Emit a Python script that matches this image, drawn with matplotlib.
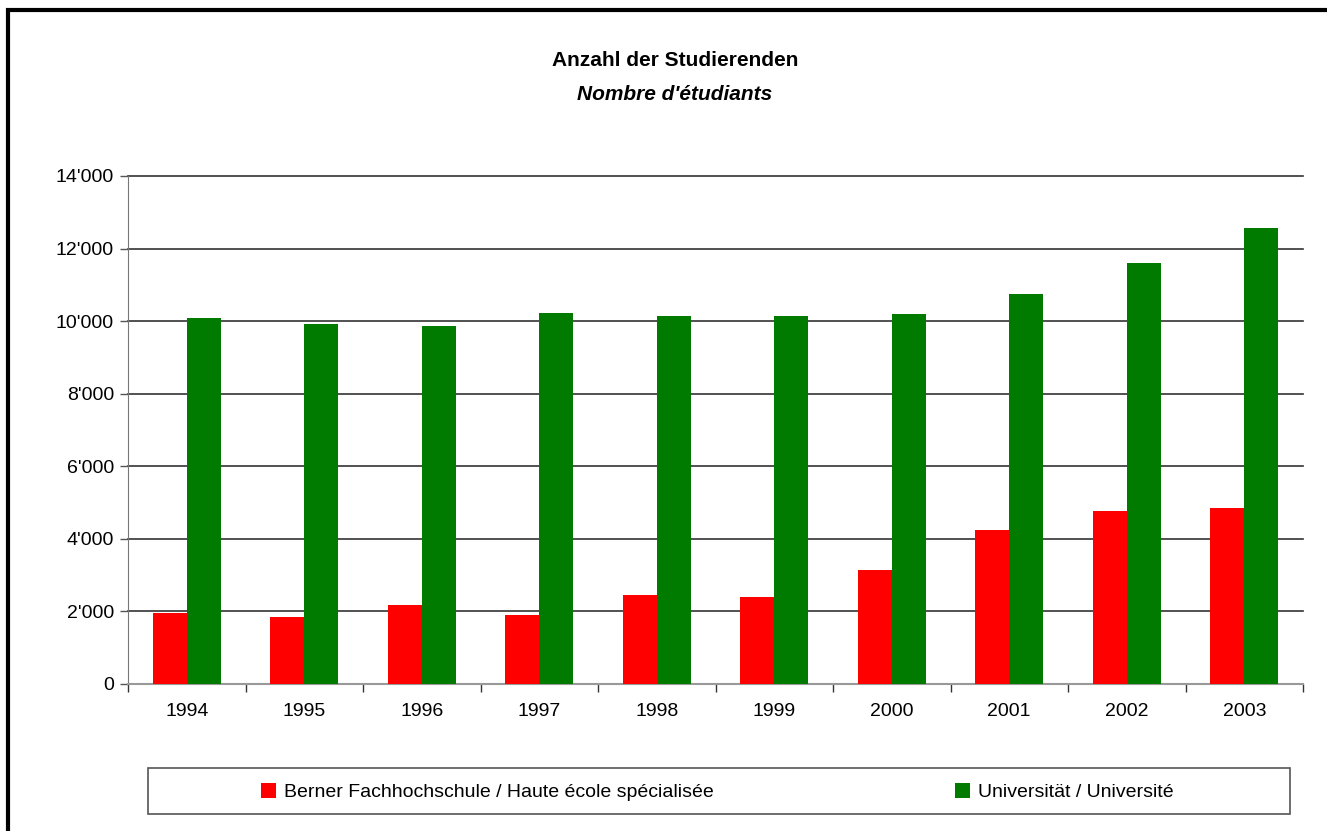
import matplotlib.pyplot as plt
import matplotlib.ticker as mticker
from matplotlib.patches import Rectangle
import numpy as np

plt.rcParams['font.family'] = ['Liberation Sans Narrow', 'Liberation Sans', 'DejaVu Sans']

years = ['1994', '1995', '1996', '1997', '1998', '1999', '2000', '2001', '2002', '2003']
fachhochschule = [1960, 1850, 2180, 1900, 2450, 2400, 3140, 4240, 4770, 4850]
universitaet = [10080, 9920, 9860, 10220, 10140, 10150, 10200, 10750, 11610, 12580]

label_fh = 'Berner Fachhochschule / Haute école spécialisée'
label_uni = 'Universität / Université'

W, H = 1327, 831
fig = plt.figure(figsize=(W / 100, H / 100), dpi=100)
ax = fig.add_axes([128 / W, 1 - 684 / H, (1303 - 128) / W, (684 - 176) / H])

x = np.arange(len(years))
bw = 0.29
ax.bar(x - bw / 2, fachhochschule, bw, color='#ff0000', label=label_fh, zorder=3)
ax.bar(x + bw / 2, universitaet, bw, color='#007b00', label=label_uni, zorder=3)

ax.set_xlim(-0.5, len(years) - 0.5)
ax.set_ylim(0, 14000)
ax.set_yticks(np.arange(0, 14001, 2000))
ax.yaxis.set_major_formatter(mticker.FuncFormatter(
    lambda v, p: f"{int(v):,}".replace(',', "'")))
ax.grid(axis='y', color='#333333', linewidth=1.2, zorder=0)
for gl in ax.get_ygridlines():
    gl.set_clip_on(False)

# year labels centred, tick marks between the groups
ax.set_xticks(x)
ax.set_xticklabels(years)
ax.set_xticks(np.arange(-0.5, len(years), 1), minor=True)
ax.tick_params(axis='x', which='major', length=0, pad=14, labelsize=14)
ax.tick_params(axis='x', which='minor', length=6, width=1, color='#333333')
ax.tick_params(axis='y', length=6, width=1, color='#555555', labelsize=14, pad=4)

for s in ['top', 'right']:
    ax.spines[s].set_visible(False)
ax.spines['left'].set_color('#777777')
ax.spines['bottom'].set_color('#999999')
ax.spines['bottom'].set_linewidth(1.5)

fig.text(675 / W, 1 - 61 / H, 'Anzahl der Studierenden', ha='center', va='center',
         fontsize=15, fontweight='bold')
fig.text(675 / W, 1 - 95 / H, "Nombre d'étudiants", ha='center', va='center',
         fontsize=15, fontweight='bold', fontstyle='italic')

# legend box
fig.patches.append(Rectangle((148 / W, 1 - 814 / H), (1290 - 148) / W, (814 - 768) / H,
                             transform=fig.transFigure, facecolor='white',
                             edgecolor='#555555', linewidth=1.2))
fig.legend(loc='center left', bbox_to_anchor=(243 / W, 1 - 792 / H), ncol=2,
           frameon=False, fontsize=14, handlelength=0.8, handleheight=0.8,
           handletextpad=0.4, columnspacing=12.4)

# outer frame
fig.patches.append(Rectangle((8 / W, -0.1), 1.2, 1.1 - 10 / H,
                             transform=fig.transFigure, facecolor='none',
                             edgecolor='black', linewidth=3))

fig.savefig('out.png', dpi=100, facecolor='white')
